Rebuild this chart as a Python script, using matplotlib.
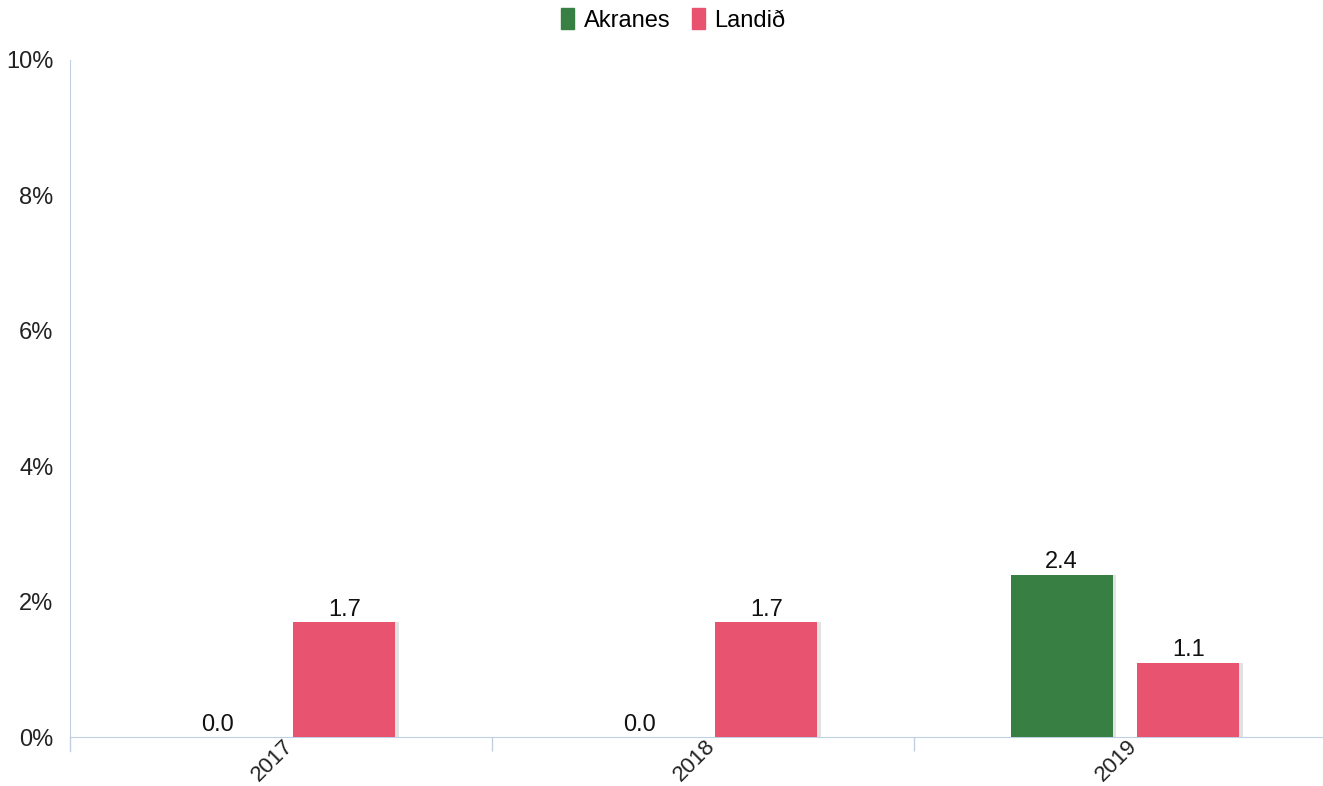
import numpy as np
import matplotlib.pyplot as plt
import matplotlib.transforms as mtransforms
from matplotlib.patches import Patch

plt.rcParams['font.family'] = ['Liberation Sans', 'DejaVu Sans']

years = ['2017', '2018', '2019']
akranes = [0.0, 0.0, 2.4]
landid = [1.7, 1.7, 1.1]
series_names = ['Akranes', 'Landið']
colors = ['#387f44', '#e8536f']
yticks = [0, 2, 4, 6, 8, 10]

W, H = 1323, 786
fig = plt.figure(figsize=(W / 100, H / 100), dpi=100)
ax = fig.add_axes([70 / W, 1 - 737 / H, (1323 - 70) / W, (737 - 60) / H])

x = np.arange(len(years))
width = 0.242
off = 0.15
axis_col = '#c0cfe2'
fs = 17

for vals, sign, col in [(akranes, -1, colors[0]), (landid, 1, colors[1])]:
    # light shadow to the right of each bar
    ax.bar(x + sign * off + 0.008, vals, width, color='#e2e2e2', zorder=2)
    bars = ax.bar(x + sign * off, vals, width, color=col, zorder=3)
    for b, v in zip(bars, vals):
        ax.text(b.get_x() + b.get_width() / 2, v + 0.02, f'{v:.1f}',
                ha='center', va='bottom', fontsize=fs, color='#111111', zorder=4)

ax.set_ylim(0, 10)
ax.set_xlim(-0.5, 2.5 - 13 / 422)
ax.set_yticks(yticks)
ax.set_yticklabels([f'{t}%' for t in yticks])
ax.tick_params(axis='y', length=0, pad=12, labelsize=fs, labelcolor='#222222')

ax.set_xticks(x)
ax.set_xticklabels(years, rotation=45, ha='right', va='center', rotation_mode='anchor')
ax.tick_params(axis='x', length=0, pad=8, labelsize=16, labelcolor='#222222')
# nudge rotated year labels right and up
shift = mtransforms.ScaledTranslation(9 / 100, 5 / 100, fig.dpi_scale_trans)
for lbl in ax.get_xticklabels():
    lbl.set_transform(lbl.get_transform() + shift)
ax.set_xticks([0.5, 1.5], minor=True)
ax.tick_params(axis='x', which='minor', length=10, color=axis_col, width=1)

for s in ['top', 'right']:
    ax.spines[s].set_visible(False)
ax.spines['left'].set_color(axis_col)
ax.spines['bottom'].set_color(axis_col)
ax.spines['left'].set_bounds(0, 10)
ax.plot([-0.5, -0.5], [0, -0.2], color=axis_col, lw=1, clip_on=False)

handles = [Patch(color=c) for c in colors]
fig.legend(handles, series_names, loc='upper center', bbox_to_anchor=(0.509, 1.017),
           ncol=2, frameon=False, fontsize=fs, handlelength=0.55, handleheight=1.0,
           handletextpad=0.4, columnspacing=0.9)

fig.savefig('out.png', dpi=100)
